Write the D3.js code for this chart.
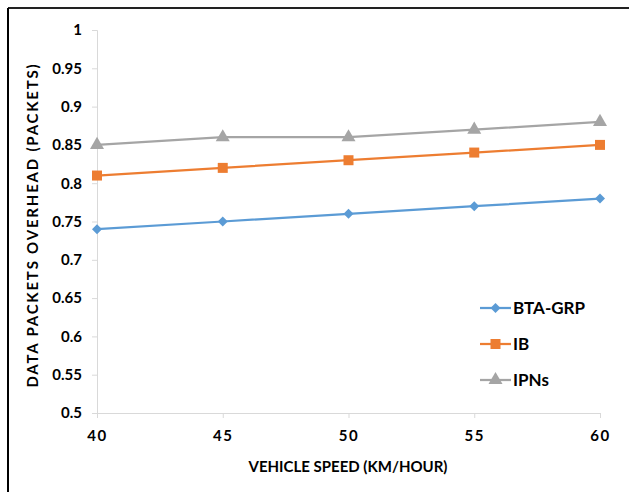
<!DOCTYPE html>
<html>
<head>
<meta charset="utf-8">
<script src="https://cdn.jsdelivr.net/npm/d3@7"></script>
<style>
  body { margin: 0; background: #fff; }
  svg text { font-family: Lato, sans-serif; font-weight: bold; fill: #000; }
</style>
</head>
<body>
<svg id="chart" width="629" height="492"></svg>
<script>
const speeds = [40, 45, 50, 55, 60];
const btaGrp = [0.74, 0.75, 0.76, 0.77, 0.78];
const ib = [0.81, 0.82, 0.83, 0.84, 0.85];
const ipns = [0.85, 0.86, 0.86, 0.87, 0.88];
const yTicks = [0.5, 0.55, 0.6, 0.65, 0.7, 0.75, 0.8, 0.85, 0.9, 0.95, 1];

// diamond = square turned 45 degrees (wider than d3's symbolDiamond)
const series = [
  { name: "BTA-GRP", values: btaGrp, color: "#5B9BD5", symbol: d3.symbolSquare, size: 50, rot: 45 },
  { name: "IB", values: ib, color: "#ED7D31", symbol: d3.symbolSquare, size: 100, rot: 0 },
  { name: "IPNs", values: ipns, color: "#A5A5A5", symbol: d3.symbolTriangle, size: 85, rot: 0 }
];

const svg = d3.select("#chart");

// outer frame
svg.append("line").attr("x1", 8).attr("x2", 629).attr("y1", 8).attr("y2", 8)
  .attr("stroke", "#222").attr("stroke-width", 2);
svg.append("line").attr("x1", 8).attr("x2", 8).attr("y1", 8).attr("y2", 492)
  .attr("stroke", "#000").attr("stroke-width", 2);

const plotLeft = 97, plotRight = 600, plotTop = 30, plotBottom = 413;

const x = d3.scaleLinear().domain([40, 60]).range([plotLeft, plotRight]);
const y = d3.scaleLinear().domain([0.5, 1]).range([plotBottom, plotTop]);

// y axis
const yAxis = svg.append("g")
  .attr("transform", `translate(${plotLeft},0)`)
  .call(d3.axisLeft(y).tickValues(yTicks).tickFormat(d => String(d)).tickSize(5).tickPadding(10));
yAxis.select(".domain").attr("stroke", "#D9D9D9");
yAxis.selectAll(".tick line").attr("stroke", "#D9D9D9");
yAxis.selectAll("text").style("font-size", "15px");

// x axis
const xAxis = svg.append("g")
  .attr("transform", `translate(0,${plotBottom})`)
  .call(d3.axisBottom(x).tickValues(speeds).tickSize(5).tickPadding(12));
xAxis.select(".domain").attr("stroke", "#D9D9D9");
xAxis.selectAll(".tick line").attr("stroke", "#D9D9D9");
xAxis.selectAll("text").style("font-size", "15px").style("letter-spacing", "1.5px");

// axis titles
svg.append("text")
  .attr("x", 348).attr("y", 472)
  .attr("text-anchor", "middle")
  .style("font-size", "15px")
  .text("VEHICLE SPEED (KM/HOUR)");

svg.append("text")
  .attr("transform", "translate(38,225) rotate(-90)")
  .attr("text-anchor", "middle")
  .style("font-size", "15px")
  .style("letter-spacing", "1.8px")
  .text("DATA PACKETS OVERHEAD (PACKETS)");

// lines and markers
const line = d3.line().x((d, i) => x(speeds[i])).y(d => y(d));

series.forEach(s => {
  svg.append("path")
    .datum(s.values)
    .attr("d", line)
    .attr("fill", "none")
    .attr("stroke", s.color)
    .attr("stroke-width", 2.25);

  svg.selectAll(null)
    .data(s.values)
    .enter()
    .append("path")
    .attr("d", d3.symbol().type(s.symbol).size(s.size))
    .attr("transform", (d, i) => `translate(${x(speeds[i])},${y(d)}) rotate(${s.rot})`)
    .attr("fill", s.color);
});

// legend
const legend = svg.append("g").attr("transform", "translate(480,308)");
series.forEach((s, i) => {
  const g = legend.append("g").attr("transform", `translate(0,${i * 36})`);
  g.append("line").attr("x1", 0).attr("x2", 31).attr("stroke", s.color).attr("stroke-width", 2.25);
  g.append("path").attr("d", d3.symbol().type(s.symbol).size(s.size))
    .attr("transform", `translate(15.5,0) rotate(${s.rot})`).attr("fill", s.color);
  g.append("text").attr("x", 33).attr("dy", "0.35em").style("font-size", "17px").text(s.name);
});
</script>
</body>
</html>
